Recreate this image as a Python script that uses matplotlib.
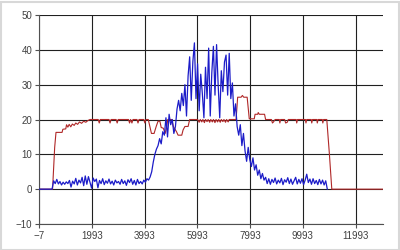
import numpy as np
import matplotlib
matplotlib.use("Agg")
import matplotlib.pyplot as plt
from matplotlib.patches import Rectangle

# blue series: one sample every 60 units starting at 0
blue_step = 60
blue_y = [
    0, 0, 0, 0, 0, 0, 0, 0, 0,
    2.4, 1.6, 2.8, 1.5, 2.2, 1.2, 2.0, 1.4, 2.1, 1.6,
    2.5, 0.6, 2.3, 1.5, 3.1, 1.2, 2.6, 1.8, 3.4, 1.0,
    3.8, 1.4, 3.6, 2.0, 0.3, 3.2, 2.2, 2.9, 0.4, 2.5,
    1.6, 3.0, 1.3, 2.4, 1.7, 2.9, 1.5, 2.3, 1.2, 2.6,
    1.8, 2.2, 1.4, 2.8, 1.6, 2.4, 1.1, 2.7, 1.9, 3.0,
    1.4, 2.5, 1.2, 2.8, 1.6, 2.2, 1.5, 2.6, 2.0, 3.0,
    2.6, 3.5, 5.0, 7.8, 10.0, 11.5, 12.5, 14.5, 13.0, 16.5,
    15.5, 20.5, 15.0, 21.5, 18.5, 20.0, 16.0, 18.0, 23.0, 25.5,
    22.5, 27.5, 24.0, 30.0, 21.0, 32.5, 38.0, 25.5, 36.5, 42.0,
    26.0, 36.0, 22.5, 33.0, 27.5, 20.5, 35.0, 26.0, 40.5, 21.0,
    33.5, 41.0, 27.0, 41.5, 30.0, 20.5, 34.0, 28.0, 36.5, 38.5,
    27.0, 39.0, 26.0, 30.5, 21.0, 24.5, 18.0, 15.5, 18.5, 12.5,
    16.0, 11.0, 8.0, 12.0, 8.5, 6.5, 9.0, 5.5, 7.0, 4.0,
    5.5, 3.0, 4.5, 2.6, 3.4,
    1.6, 3.0, 1.4, 2.8, 1.9, 3.2, 1.5, 2.6, 1.8, 3.1,
    1.3, 2.7, 2.0, 3.3, 1.6, 2.9, 1.4, 2.4, 3.4, 1.5,
    2.8, 1.7, 3.0, 1.3, 2.6, 4.3, 1.9, 2.9, 1.4, 3.0,
    1.6, 2.5, 1.3, 2.8, 1.5, 2.6, 1.2, 2.4, 0,
]
blue_x = np.arange(len(blue_y)) * blue_step

# red series: breakpoints
red_x = [0, 500, 540, 580, 630, 860, 890, 1000, 1030, 1080, 1130, 1190, 1250,
         1320, 1380, 1450, 1520, 1600, 1680, 1760, 1840, 1920,
         2230, 2270, 2310, 2640, 2680, 2720, 2910, 2950, 2990,
         3380, 3420, 3460, 3510, 3550, 3700, 3740, 3780, 3960, 4000, 4040,
         4130, 4180, 4250, 4350, 4430, 4500, 4570, 4620, 4700, 4770, 4830,
         4870, 5020, 5080, 5200, 5260, 5400, 5450, 5520, 5640, 5700, 6000,
         6060, 6100, 6160, 6200, 6260, 6300, 6360, 6400, 6460, 6500, 6560,
         6600, 6660, 6700, 6760, 6800, 6860, 6900, 6960, 7000, 7060, 7100,
         7160, 7200, 7460, 7520, 7650, 7700, 7750, 7880, 7960, 8150, 8180,
         8280, 8300, 8340, 8540, 8580, 8800, 8840, 8880, 8940, 9100, 9120,
         9150, 9300, 9340, 9400, 9440, 9740, 9760, 9790, 10090, 10110, 10140,
         10310, 10330, 10360, 10520, 10540, 10570, 10730, 10750, 10780,
         10900, 11000, 11090, 13040]
red_y = [0, 0, 6, 12, 16.3, 16.3, 17.2, 17.3, 18.5, 17.8, 18.6, 17.9, 18.7,
         18.3, 19.0, 18.6, 19.3, 18.9, 19.5, 19.2, 19.7, 20,
         20, 19, 20, 20, 19, 20, 20, 19, 20,
         20, 19, 20, 19, 20, 20, 19, 20, 20, 19, 20,
         20, 18.3, 16, 16, 18, 19.5, 19.5, 17.7, 17.5, 16, 18,
         20, 20, 18, 16.5, 15.5, 15.5, 17, 18, 18, 20, 20,
         19.2, 20, 19.3, 20, 19.1, 20, 19.4, 20, 19.2, 20, 19.3,
         20, 19.1, 20, 19.3, 20, 19.2, 20, 19.4, 20, 19.2, 20,
         19.3, 20, 20, 26.4, 26.4, 26.9, 26.4, 26.4, 20.2, 20.2, 21.5,
         21.5, 22, 21.5, 21.5, 20, 20, 19, 19.3, 20, 20, 19,
         20, 20, 19, 19.2, 20, 20, 19, 20, 20, 19, 20,
         20, 19, 20, 20, 19, 20, 20, 19, 20,
         20, 10, 0, 0]

x_ticks = [-7, 1993, 3993, 5993, 7993, 9993, 11993]
y_ticks = [-10, 0, 10, 20, 30, 40, 50]


def main():
    plt.rcParams['font.family'] = ['Liberation Sans', 'DejaVu Sans']
    fig = plt.figure(figsize=(4, 2.5), dpi=100)
    fig.patches.append(Rectangle((0.002, 0.002), 0.996, 0.99, transform=fig.transFigure,
                                 fill=False, edgecolor='#d8d8d8', lw=1.5))
    ax = fig.add_axes([0.098, 0.104, 0.86, 0.836])

    ax.plot(blue_x, blue_y, color='#1c1cc8', lw=0.9, zorder=3)
    ax.plot(red_x, red_y, color='#b02828', lw=0.8, zorder=2)

    ax.set_xlim(-7, 13040)
    ax.set_ylim(-10, 50)
    ax.set_xticks(x_ticks)
    ax.set_yticks(y_ticks)
    ax.grid(True, color='#202020', lw=0.8)
    ax.set_axisbelow(True)
    for side in ['top', 'right']:
        ax.spines[side].set_visible(False)
    for side in ['left', 'bottom']:
        ax.spines[side].set_color('#505050')
        ax.spines[side].set_linewidth(0.8)
    ax.tick_params(length=3, width=0.8, color='#505050', labelsize=7,
                   labelcolor='#404040', pad=2)

    fig.savefig('out.png', dpi=100)


if __name__ == "__main__":
    main()
